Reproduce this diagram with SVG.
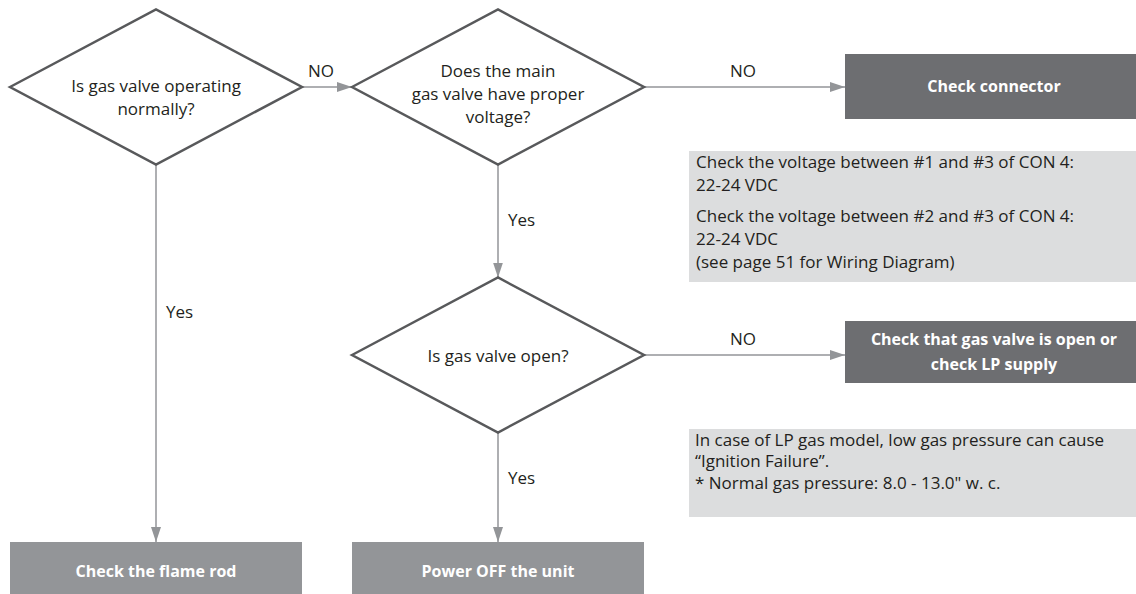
<svg xmlns="http://www.w3.org/2000/svg" width="1136" height="594" viewBox="0 0 1136 594">
<style>
.t{font-family:"Open Sans","Liberation Sans",sans-serif;font-size:17px;fill:#231f20}
.m{text-anchor:middle}
.b{font-family:"Open Sans","Liberation Sans",sans-serif;font-size:16px;font-weight:700;fill:#fff;text-anchor:middle}
.d{fill:#fff;stroke:#58595b;stroke-width:2.5}
.e{stroke:#939598;stroke-width:1.5;fill:none;marker-end:url(#a)}
.dk{fill:#6d6e71}
.lt{fill:#939598}
.info{fill:#dcddde}
</style>
<defs>
<marker id="a" markerUnits="userSpaceOnUse" markerWidth="16" markerHeight="12" refX="15" refY="5" orient="auto"><path d="M0,0 L15,5 L0,10 Z" fill="#939598"/></marker>
</defs>
<g id="connectors">
<path class="e" d="M302,87 H352"/>
<path class="e" d="M644,87 H845"/>
<path class="e" d="M498,164.5 V277.5"/>
<path class="e" d="M644,355 H845"/>
<path class="e" d="M156,164.5 V542"/>
<path class="e" d="M498,432.5 V542"/>
<text class="t m" x="321" y="77">NO</text>
<text class="t m" x="743" y="77">NO</text>
<text class="t" x="508" y="226">Yes</text>
<text class="t m" x="743" y="345">NO</text>
<text class="t" x="166" y="318">Yes</text>
<text class="t" x="508" y="484">Yes</text>
</g>
<g id="q1">
<polygon class="d" points="10,87 156,9.5 302,87 156,164.5"/>
<text class="t m" x="156" y="91.5">Is gas valve operating</text>
<text class="t m" x="156" y="114.5">normally?</text>
</g>
<g id="q2">
<polygon class="d" points="352,87 498,9.5 644,87 498,164.5"/>
<text class="t m" x="498" y="77">Does the main</text>
<text class="t m" x="498" y="100">gas valve have proper</text>
<text class="t m" x="498" y="123">voltage?</text>
</g>
<g id="q3">
<polygon class="d" points="352,355 498,277.5 644,355 498,432.5"/>
<text class="t m" x="498" y="361.5">Is gas valve open?</text>
</g>
<g id="check-connector">
<rect class="dk" x="845" y="54" width="298" height="65"/>
<text class="b" x="994" y="92">Check connector</text>
</g>
<g id="note-voltage">
<rect class="info" x="689" y="151" width="460" height="131"/>
<text class="t" x="696" y="168">Check the voltage between #1 and #3 of CON 4:</text>
<text class="t" x="696" y="191">22-24 VDC</text>
<text class="t" x="696" y="222">Check the voltage between #2 and #3 of CON 4:</text>
<text class="t" x="696" y="245">22-24 VDC</text>
<text class="t" x="696" y="268">(see page 51 for Wiring Diagram)</text>
</g>
<g id="check-gas-open">
<rect class="dk" x="845" y="321" width="298" height="62"/>
<text class="b" x="994" y="345">Check that gas valve is open or</text>
<text class="b" x="994" y="370">check LP supply</text>
</g>
<g id="note-lp">
<rect class="info" x="689" y="429" width="460" height="88"/>
<text class="t" x="695" y="446">In case of LP gas model, low gas pressure can cause</text>
<text class="t" x="695" y="467">“Ignition Failure”.</text>
<text class="t" x="695" y="489">* Normal gas pressure: 8.0 - 13.0" w. c.</text>
</g>
<g id="flame-rod">
<rect class="lt" x="10" y="542" width="292" height="70"/>
<text class="b" x="156" y="577">Check the flame rod</text>
</g>
<g id="power-off">
<rect class="lt" x="352" y="542" width="292" height="70"/>
<text class="b" x="498" y="577">Power OFF the unit</text>
</g>
</svg>
